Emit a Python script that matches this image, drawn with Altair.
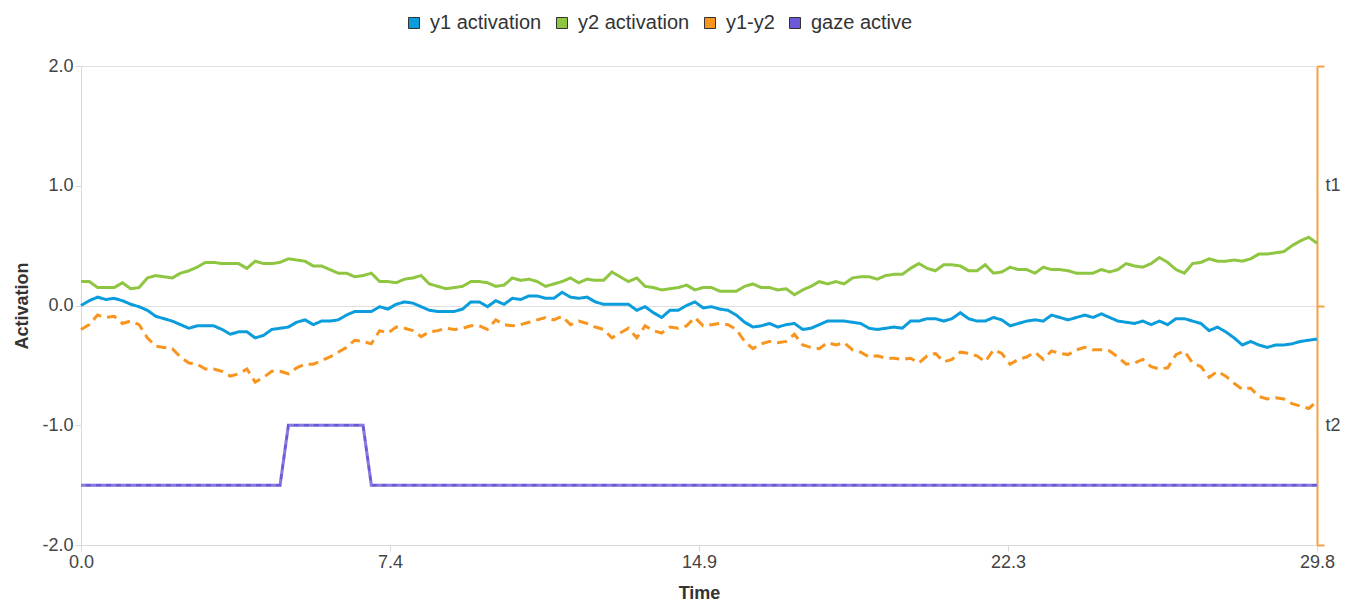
import altair as alt
import pandas as pd

series_names = ["y1 activation", "y2 activation", "y1-y2", "gaze active"]
series_colors = ["#0b9ddb", "#8fc641", "#f7951f", "#6a5ad8"]
series_dashes = [[1, 0], [1, 0], [10, 6], [1, 0]]

time_values = [round(0.2 * i, 1) for i in range(150)]

y1_activation = [
    0.00, 0.04, 0.07, 0.05, 0.06, 0.04, 0.01, -0.01, -0.04, -0.09,
    -0.11, -0.13, -0.16, -0.19, -0.17, -0.17, -0.17, -0.20, -0.24, -0.22,
    -0.22, -0.27, -0.25, -0.20, -0.19, -0.18, -0.14, -0.12, -0.16, -0.13,
    -0.13, -0.12, -0.08, -0.05, -0.05, -0.05, -0.01, -0.03, 0.01, 0.03,
    0.02, -0.01, -0.04, -0.05, -0.05, -0.05, -0.03, 0.03, 0.03, -0.01,
    0.04, 0.01, 0.06, 0.05, 0.08, 0.08, 0.06, 0.06, 0.11, 0.07,
    0.06, 0.07, 0.03, 0.01, 0.01, 0.01, 0.01, -0.04, -0.01, -0.06,
    -0.10, -0.04, -0.04, 0.00, 0.03, -0.02, -0.01, -0.03, -0.04, -0.08,
    -0.14, -0.18, -0.17, -0.15, -0.18, -0.16, -0.15, -0.20, -0.19, -0.16,
    -0.13, -0.13, -0.13, -0.14, -0.15, -0.19, -0.20, -0.19, -0.18, -0.19,
    -0.13, -0.13, -0.11, -0.11, -0.13, -0.11, -0.06, -0.11, -0.13, -0.13,
    -0.10, -0.12, -0.17, -0.15, -0.13, -0.12, -0.13, -0.08, -0.10, -0.12,
    -0.10, -0.08, -0.10, -0.07, -0.10, -0.13, -0.14, -0.15, -0.13, -0.16,
    -0.13, -0.16, -0.11, -0.11, -0.13, -0.15, -0.21, -0.18, -0.22, -0.27,
    -0.33, -0.30, -0.33, -0.35, -0.33, -0.33, -0.32, -0.30, -0.29, -0.28,
]

y2_activation = [
    0.20, 0.20, 0.15, 0.15, 0.15, 0.19, 0.14, 0.15, 0.23, 0.25,
    0.24, 0.23, 0.27, 0.29, 0.32, 0.36, 0.36, 0.35, 0.35, 0.35,
    0.31, 0.37, 0.35, 0.35, 0.36, 0.39, 0.38, 0.37, 0.33, 0.33,
    0.30, 0.27, 0.27, 0.24, 0.25, 0.27, 0.20, 0.20, 0.19, 0.22,
    0.23, 0.25, 0.18, 0.16, 0.14, 0.15, 0.16, 0.20, 0.20, 0.19,
    0.16, 0.17, 0.23, 0.21, 0.22, 0.20, 0.16, 0.18, 0.20, 0.23,
    0.19, 0.22, 0.21, 0.21, 0.28, 0.24, 0.20, 0.23, 0.16, 0.15,
    0.13, 0.14, 0.15, 0.17, 0.13, 0.15, 0.15, 0.12, 0.12, 0.12,
    0.16, 0.18, 0.15, 0.15, 0.13, 0.14, 0.09, 0.13, 0.16, 0.20,
    0.18, 0.20, 0.18, 0.23, 0.24, 0.24, 0.22, 0.25, 0.26, 0.26,
    0.31, 0.35, 0.31, 0.29, 0.34, 0.34, 0.33, 0.29, 0.29, 0.34,
    0.27, 0.28, 0.32, 0.30, 0.30, 0.27, 0.32, 0.30, 0.30, 0.29,
    0.27, 0.27, 0.27, 0.30, 0.28, 0.30, 0.35, 0.33, 0.32, 0.35,
    0.40, 0.36, 0.30, 0.27, 0.35, 0.36, 0.39, 0.37, 0.37, 0.38,
    0.37, 0.39, 0.43, 0.43, 0.44, 0.45, 0.50, 0.54, 0.57, 0.52,
]

y1_minus_y2 = [
    -0.20, -0.16, -0.08, -0.10, -0.09, -0.15, -0.13, -0.16, -0.27, -0.34,
    -0.35, -0.36, -0.43, -0.48, -0.49, -0.53, -0.53, -0.55, -0.59, -0.57,
    -0.53, -0.64, -0.60, -0.55, -0.55, -0.57, -0.52, -0.49, -0.49, -0.46,
    -0.43, -0.39, -0.35, -0.29, -0.30, -0.32, -0.21, -0.23, -0.18, -0.19,
    -0.21, -0.26, -0.22, -0.21, -0.19, -0.20, -0.19, -0.17, -0.17, -0.20,
    -0.12, -0.16, -0.17, -0.16, -0.14, -0.12, -0.10, -0.12, -0.09, -0.16,
    -0.13, -0.15, -0.18, -0.20, -0.27, -0.23, -0.19, -0.27, -0.17, -0.21,
    -0.23, -0.18, -0.19, -0.17, -0.10, -0.17, -0.16, -0.15, -0.16, -0.20,
    -0.30, -0.36, -0.32, -0.30, -0.31, -0.30, -0.24, -0.33, -0.35, -0.36,
    -0.31, -0.33, -0.31, -0.37, -0.39, -0.43, -0.42, -0.44, -0.44, -0.45,
    -0.44, -0.48, -0.42, -0.40, -0.47, -0.45, -0.39, -0.40, -0.42, -0.47,
    -0.37, -0.40, -0.49, -0.45, -0.43, -0.39, -0.45, -0.38, -0.40, -0.41,
    -0.37, -0.35, -0.37, -0.37, -0.38, -0.43, -0.49, -0.48, -0.45, -0.51,
    -0.53, -0.52, -0.41, -0.38, -0.48, -0.51, -0.60, -0.55, -0.59, -0.65,
    -0.70, -0.69, -0.76, -0.78, -0.77, -0.78, -0.82, -0.84, -0.86, -0.80,
]

gaze_active = [-1.5] * 25 + [-1.0] * 10 + [-1.5] * 115

band_labels = ["t1", "t2"]
x_tick_values = [0, 7.45, 14.9, 22.35, 29.8]
x_tick_labels = ["0.0", "7.4", "14.9", "22.3", "29.8"]
y_tick_values = [-2, -1, 0, 1, 2]
y_tick_labels = ["-2.0", "-1.0", "0.0", "1.0", "2.0"]

rows = []
for name, vals in zip(series_names, [y1_activation, y2_activation, y1_minus_y2, gaze_active]):
    for t, v in zip(time_values, vals):
        rows.append({"time": t, "value": v, "series": name})
df = pd.DataFrame(rows)

legend_df = pd.DataFrame({"legend_series": series_names,
                          "time": [0.0] * len(series_names),
                          "value": [0.0] * len(series_names)})

FONT = "Liberation Sans"
ORANGE = "#f7a144"


def lookup_expr(vals, labels):
    return "[" + ",".join("'%s'" % s for s in labels) + "][indexof([" + \
        ",".join(str(v) for v in vals) + "], datum.value)]"


x_enc = alt.X("time:Q", title="Time",
              scale=alt.Scale(domain=[0, 29.8], nice=False, zero=False),
              axis=alt.Axis(values=x_tick_values,
                            labelExpr=lookup_expr(x_tick_values, x_tick_labels),
                            grid=False, labelFlush=False,
                            domainColor="#d9d9d9", tickColor="#d9d9d9", tickSize=6,
                            labelFontSize=18, titleFontSize=18, labelPadding=2,
                            titlePadding=13, labelColor="#444", titleColor="#333"))
y_enc = alt.Y("value:Q", title="Activation",
              scale=alt.Scale(domain=[-2, 2], nice=False, zero=False),
              axis=alt.Axis(values=y_tick_values,
                            labelExpr=lookup_expr(y_tick_values, y_tick_labels),
                            grid=False,
                            domainColor="#d9d9d9", tickColor="#d9d9d9", tickSize=6,
                            labelFontSize=18, titleFontSize=18, labelPadding=2,
                            titlePadding=10, labelColor="#444", titleColor="#333"))

lines = alt.Chart(df).mark_line(strokeWidth=3).encode(
    x=x_enc,
    y=y_enc,
    color=alt.Color("series:N", sort=series_names,
                    scale=alt.Scale(range=series_colors),
                    legend=None),
    strokeDash=alt.StrokeDash("series:N", sort=series_names,
                              scale=alt.Scale(range=series_dashes),
                              legend=None),
    order=alt.Order("time:Q"),
)

legend_layer = alt.Chart(legend_df).mark_square(size=1, opacity=0).encode(
    x=alt.X("time:Q"),
    y=alt.Y("value:Q"),
    fill=alt.Fill("legend_series:N",
                  scale=alt.Scale(domain=series_names, range=series_colors),
                  legend=alt.Legend(orient="none", legendX=323, legendY=-53,
                                    direction="horizontal", title=None,
                                    symbolType="square", symbolSize=121,
                                    symbolStrokeColor="#333", symbolStrokeWidth=1,
                                    symbolOpacity=1,
                                    labelFontSize=20, labelColor="#333",
                                    columnPadding=10, labelOffset=6)),
)

gaze_overlay = alt.Chart(df).transform_filter(
    alt.datum.series == "gaze active"
).mark_line(strokeWidth=3, color="white", opacity=0.2, strokeDash=[5, 5]).encode(
    x=alt.X("time:Q"),
    y=alt.Y("value:Q"),
)

main = alt.layer(lines, gaze_overlay, legend_layer)

band = alt.Chart(pd.DataFrame({"label": band_labels})).mark_point(opacity=0).encode(
    y=alt.Y("label:N",
            scale=alt.Scale(type="band", domain=band_labels, paddingInner=0, paddingOuter=0),
            axis=alt.Axis(orient="right", title=None, tickBand="extent",
                          domainColor=ORANGE, domainWidth=2, tickColor=ORANGE, tickWidth=2,
                          tickSize=7, grid=True, gridColor="#e0e0e0",
                          labelFontSize=18, labelColor="#444", labelPadding=1)),
)

chart = alt.layer(band, main).resolve_scale(
    y="independent"
).properties(
    width=1236, height=479
).configure_view(
    stroke=None
).configure(
    font=FONT
)

chart.save("out.html", embed_options={"renderer": "svg", "actions": False})
